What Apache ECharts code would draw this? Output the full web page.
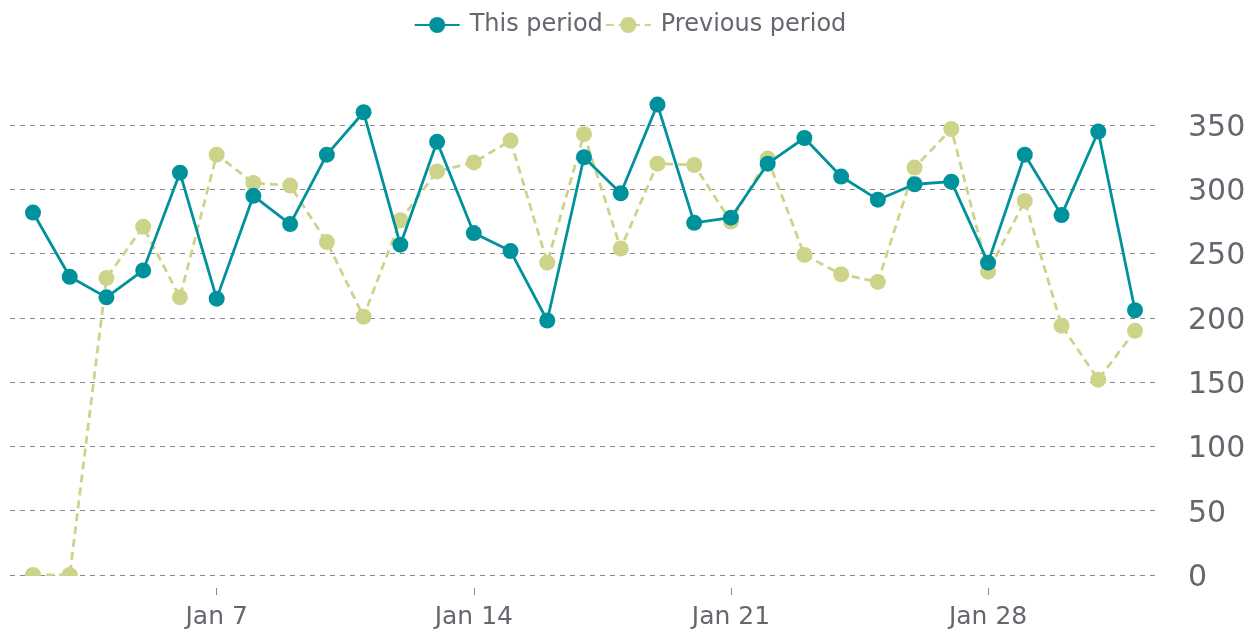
<!DOCTYPE html>
<html>
<head>
<meta charset="utf-8">
<script src="https://cdn.jsdelivr.net/npm/echarts@6/dist/echarts.min.js"></script>
<style>html,body{margin:0;padding:0;background:#fff}#c{width:1260px;height:633px}</style>
</head>
<body>
<div id="c"></div>
<script>
const categories = ['Jan 2','Jan 3','Jan 4','Jan 5','Jan 6','Jan 7','Jan 8','Jan 9','Jan 10','Jan 11','Jan 12','Jan 13','Jan 14','Jan 15','Jan 16','Jan 17','Jan 18','Jan 19','Jan 20','Jan 21','Jan 22','Jan 23','Jan 24','Jan 25','Jan 26','Jan 27','Jan 28','Jan 29','Jan 30','Jan 31','Feb 1'];
const thisPeriod = [282,232,216,237,313,215,295,273,327,360,257,337,266,252,198,325,297,366,274,278,320,340,310,292,304,306,243,327,280,345,206];
const previousPeriod = [0,0,231,271,216,327,305,303,259,201,276,314,321,338,243,343,254,320,319,275,324,249,234,228,317,347,236,291,194,152,190];
const xTickLabels = ['Jan 7','Jan 14','Jan 21','Jan 28'];
const yTicks = [0,50,100,150,200,250,300,350];

const TEAL = '#00929c';
const GREEN = '#cdd48a';
const TEXT = '#66666e';
const FONT = 'DejaVu Sans';

const tickIdx = xTickLabels.map(l => categories.indexOf(l));
const chart = echarts.init(document.getElementById('c'));
chart.setOption({
  animation: false,
  textStyle: { fontFamily: FONT },
  legend: {
    top: 8,
    left: 'center',
    itemGap: 2,
    itemWidth: 45,
    itemHeight: 20,
    textStyle: { fontSize: 24, color: TEXT, fontFamily: FONT, padding: [0,0,0,5] },
    data: ['This period', 'Previous period']
  },
  grid: { left: 10, right: 102, top: 93, bottom: 58, containLabel: false },
  xAxis: {
    type: 'value',
    min: -0.626,
    max: categories.length - 1 + 0.626,
    offset: 13,
    z: 60,
    axisLine: { show: false, onZero: false },
    axisTick: { show: true, length: 7, lineStyle: { color: '#888' }, customValues: tickIdx },
    axisLabel: {
      customValues: tickIdx,
      margin: 17,
      fontSize: 25,
      color: TEXT,
      fontFamily: FONT,
      formatter: v => categories[Math.round(v)]
    },
    splitLine: { show: false }
  },
  yAxis: {
    type: 'value',
    position: 'right',
    min: yTicks[0],
    max: 375,
    interval: yTicks[1] - yTicks[0],
    axisLine: { show: false },
    axisTick: { show: false },
    axisLabel: {
      margin: 30, fontSize: 30, color: TEXT, fontFamily: FONT, showMaxLabel: false,
      formatter: v => '{v|' + v + '}',
      rich: { v: { fontSize: 30, color: TEXT, fontFamily: FONT, padding: [6, 0, 0, 0] } }
    },
    splitLine: { show: true, showMaxLine: false, lineStyle: { color: '#888', type: [5, 5], width: 1 } }
  },
  graphic: [{
    type: 'rect',
    z: 50,
    shape: { x: 0, y: 576, width: 1162, height: 57 },
    style: { fill: '#fff' }
  }],
  series: [
    {
      name: 'This period',
      type: 'line',
      z: 3,
      data: thisPeriod.map((v, i) => [i, v]),
      symbol: 'circle',
      symbolSize: 16,
      color: TEAL,
      lineStyle: { color: TEAL, width: 2.8 },
      itemStyle: { color: TEAL }
    },
    {
      name: 'Previous period',
      type: 'line',
      z: 2,
      data: previousPeriod.map((v, i) => [i, v]),
      symbol: 'circle',
      symbolSize: 16,
      color: GREEN,
      lineStyle: { color: GREEN, width: 2.8, type: [8, 5] },
      itemStyle: { color: GREEN }
    }
  ]
});
</script>
</body>
</html>
